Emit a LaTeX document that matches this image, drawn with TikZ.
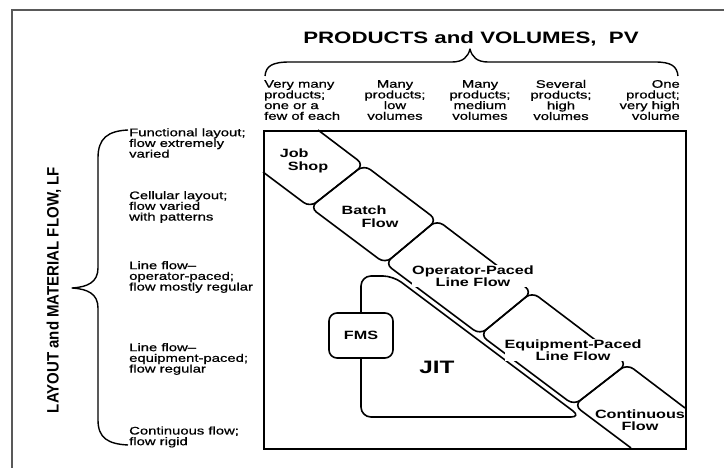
\documentclass[tikz,border=0pt]{standalone}
\usepackage{fontspec}
\setmainfont[FakeStretch=1.35]{Liberation Sans}
\newfontfamily\smallfont[FakeStretch=1.35, FakeBold=0.8, Ligatures=TeX]{Liberation Sans}
\newfontfamily\vfont[FakeStretch=0.91, Ligatures=TeX]{Liberation Sans}
\begin{document}
\begin{tikzpicture}[x=1pt,y=-1pt,
  every node/.style={inner sep=0pt, text=black},
  small/.style={font=\smallfont\fontsize{11}{10.7}\selectfont},
  lbl/.style={font=\fontsize{12}{12.5}\selectfont\bfseries, fill=white, align=center},
  seg/.style={draw=black, line width=1.6pt, rounded corners=8pt, line join=round},
  bracestyle/.style={draw=black, line width=1.4pt, line join=round},
  framestyle/.style={draw=black!65, line width=2pt}]
\useasboundingbox (0,0) rectangle (724,468);

% outer frame
\draw[framestyle] (12,468) -- (12,10) -- (724,10);

% main box
\node[draw=black, line width=1.8pt, minimum width=422pt, minimum height=318pt, anchor=north west] (grid) at (263,130) {};

% band corner points
\coordinate (u0) at (318,130);
\coordinate (u1) at (364,164.8);
\coordinate (u2) at (437,220);
\coordinate (u3) at (532,292);
\coordinate (u4) at (627,364);
\coordinate (u5) at (685,408);
\coordinate (l0) at (263,172);
\coordinate (l1) at (310,207.3);
\coordinate (l2) at (385,263.5);
\coordinate (l3) at (480,334.7);
\coordinate (l4) at (574,405.2);
\coordinate (l5) at (631,448);

% band segments
\draw[seg] (u0) -- (u1) -- (l1) -- (l0);
\draw[seg] (u1) -- (u2) -- (l2) -- (l1) -- cycle;
\draw[seg] (u2) -- (u3) -- (l3) -- (l2) -- cycle;
\draw[seg] (u3) -- (u4) -- (l4) -- (l3) -- cycle;
\draw[seg] (u5) -- (u4) -- (l4) -- (l5);

% FMS and JIT
\node[draw=black, line width=1.6pt, rounded corners=8pt, minimum width=64pt, minimum height=45pt,
      font=\fontsize{12}{12}\selectfont\bfseries] (fms) at (361,335.5) {FMS};
\draw[seg, rounded corners=10pt] (fms.north) -- (361,276) -- (393,276) -- (581,417) -- (361,417) -- (fms.south);
\node[font=\fontsize{18}{18}\selectfont\bfseries] (jit) at (437,367) {JIT};

% band labels
\node[lbl, align=left] (job) at (304,161) {Job\\\hspace*{8pt}Shop};
\node[lbl, align=left] (batch) at (370,216.5) {Batch\\\hspace*{20pt}Flow};
\node[lbl] (opl) at (473,276) {Operator-Paced\\Line Flow};
\node[lbl] (eql) at (573,350) {Equipment-Paced\\Line Flow};
\node[lbl, fill=none] (cont) at (640,420) {Continuous\\Flow};

% top title and brace
\node[font=\fontsize{16.5}{16.5}\selectfont\bfseries] (pv) at (471,39) {PRODUCTS and VOLUMES,~~PV};
\draw[bracestyle] (265,76) .. controls (266,66) and (272,62) .. (290,62) -- (452,62)
  .. controls (463,62) and (468,57) .. (470,49) .. controls (472,57) and (477,62) .. (488,62)
  -- (655,62) .. controls (671,62) and (677,66) .. (678,76);

% column headers
\node[small, align=left, anchor=west] (c1) at (264,100) {Very many\\products;\\one or a\\few of each};
\node[small, align=center] (c2) at (395,100) {Many\\products;\\low\\volumes};
\node[small, align=center] (c3) at (480,100) {Many\\products;\\medium\\volumes};
\node[small, align=center] (c4) at (561,100) {Several\\products;\\high\\volumes};
\node[small, align=right, anchor=east] (c5) at (680,100) {One\\product;\\very high\\volume};

% left title and brace
\node[rotate=90, font=\vfont\fontsize{16.5}{16.5}\selectfont\bfseries] (lf) at (54,290) {LAYOUT and MATERIAL FLOW, LF};
\draw[bracestyle] (128,130) .. controls (108,131) and (98,138) .. (98,158) -- (98,268)
  .. controls (98,282) and (88,287) .. (72,288) .. controls (88,289) and (98,294) .. (98,308)
  -- (98,420) .. controls (98,438) and (108,444) .. (128,445);

% row labels
\node[small, align=left, anchor=west] (r1) at (129,143) {Functional layout;\\flow extremely\\varied};
\node[small, align=left, anchor=west] (r2) at (129,207) {Cellular layout;\\flow varied\\with patterns};
\node[small, align=left, anchor=west] (r3) at (129,277) {Line flow–\\operator-paced;\\flow mostly regular};
\node[small, align=left, anchor=west] (r4) at (129,359) {Line flow–\\equipment-paced;\\flow regular};
\node[small, align=left, anchor=west] (r5) at (129,437) {Continuous flow;\\flow rigid};
\end{tikzpicture}
\end{document}
